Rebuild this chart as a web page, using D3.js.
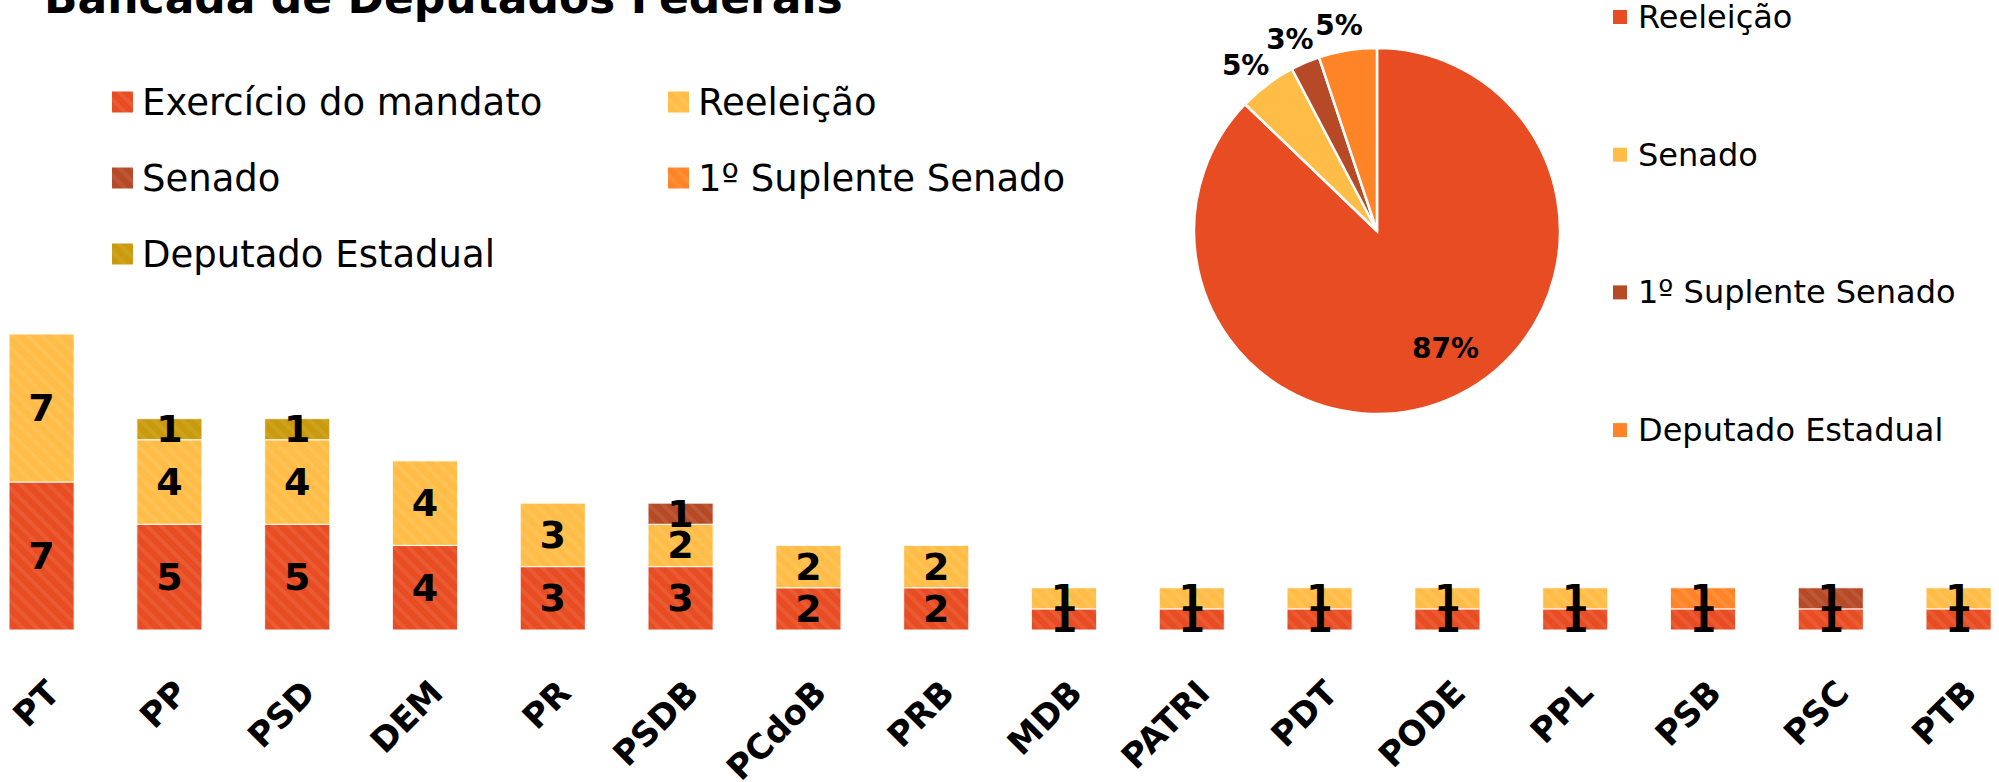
<!DOCTYPE html>
<head>
    <meta charset="utf-8">
    <title>Bancada de Deputados Federais</title>
    <style>
        body { margin: 0; background: #fff; }
        text { font-family: "DejaVu Sans", sans-serif; fill: #000; }
    </style>
</head>
<body>

<script src="https://cdn.jsdelivr.net/npm/d3@7"></script>

<script>

    // bar data, one entry per party
    const parties = ['PT', 'PP', 'PSD', 'DEM', 'PR', 'PSDB', 'PCdoB', 'PRB',
                     'MDB', 'PATRI', 'PDT', 'PODE', 'PPL', 'PSB', 'PSC', 'PTB'];
    const exercicio   = [7, 5, 5, 4, 3, 3, 2, 2, 1, 1, 1, 1, 1, 1, 1, 1];
    const reeleicao   = [7, 4, 4, 4, 3, 2, 2, 2, 1, 1, 1, 1, 1, 0, 0, 1];
    const senado      = [0, 0, 0, 0, 0, 1, 0, 0, 0, 0, 0, 0, 0, 0, 1, 0];
    const suplente    = [0, 0, 0, 0, 0, 0, 0, 0, 0, 0, 0, 0, 0, 1, 0, 0];
    const depEstadual = [0, 1, 1, 0, 0, 0, 0, 0, 0, 0, 0, 0, 0, 0, 0, 0];

    const barSeries = ['Exercício do mandato', 'Reeleição', 'Senado', '1º Suplente Senado', 'Deputado Estadual'];
    const barColors = ['#e84c22', '#ffbd47', '#b64926', '#ff8427', '#c99a0c'];

    // pie data
    const pieLabels = ['Reeleição', 'Senado', '1º Suplente Senado', 'Deputado Estadual'];
    const pieValues = [34, 2, 1, 2];
    const pieColors = ['#e84c22', '#ffbd47', '#b64926', '#ff8427'];

    const W = 1999, H = 782;

    const svg = d3.select('body').append('svg')
        .attr('width', W)
        .attr('height', H);

    // striped fills
    const defs = svg.append('defs');
    barColors.forEach((c, i) => {
        const p = defs.append('pattern')
            .attr('id', 'stripe' + i)
            .attr('patternUnits', 'userSpaceOnUse')
            .attr('width', 10)
            .attr('height', 10)
            .attr('patternTransform', 'rotate(-45)');
        p.append('rect').attr('width', 10).attr('height', 10).attr('fill', c);
        p.append('rect').attr('width', 4).attr('height', 10)
            .attr('fill', '#fff').attr('fill-opacity', 0.08);
    });

    // title (cut at the top as in the slide)
    svg.append('text')
        .attr('x', 44)
        .attr('y', 13)
        .style('font-size', '44px')
        .style('font-weight', 'bold')
        .text('Bancada de Deputados Federais');

    // ---------- stacked bars ----------
    const rows = parties.map((p, i) => ({
        party: p,
        'Exercício do mandato': exercicio[i],
        'Reeleição': reeleicao[i],
        'Senado': senado[i],
        '1º Suplente Senado': suplente[i],
        'Deputado Estadual': depEstadual[i]
    }));

    const stack = d3.stack().keys(barSeries);
    const layers = stack(rows);

    const x = d3.scaleBand()
        .domain(parties)
        .range([-22.3, 2022.5])
        .paddingInner(0.49)
        .paddingOuter(0.245);

    const y = d3.scaleLinear()
        .domain([0, 14])
        .range([630, 334]);

    const layer = svg.selectAll('.layer')
        .data(layers)
        .enter().append('g')
        .attr('class', 'layer');

    layer.selectAll('rect')
        .data((d, i) => d.filter(s => s[1] > s[0]).map(s => ({s: s, i: i})))
        .enter().append('rect')
        .attr('x', d => x(d.s.data.party))
        .attr('width', x.bandwidth())
        .attr('y', d => y(d.s[1]))
        .attr('height', d => y(d.s[0]) - y(d.s[1]))
        .attr('fill', d => 'url(#stripe' + d.i + ')')
        .attr('stroke', '#fff')
        .attr('stroke-opacity', 0.8)
        .attr('stroke-width', 1.2);

    layer.selectAll('text')
        .data(d => d.filter(s => s[1] > s[0]))
        .enter().append('text')
        .attr('x', d => x(d.data.party) + x.bandwidth() / 2)
        .attr('y', d => (y(d[0]) + y(d[1])) / 2)
        .attr('text-anchor', 'middle')
        .attr('dominant-baseline', 'central')
        .style('font-size', '38px')
        .style('font-weight', 'bold')
        .text(d => d[1] - d[0]);

    // category labels
    svg.append('g').selectAll('text')
        .data(parties)
        .enter().append('text')
        .attr('transform', d => 'translate(' + (x(d) + x.bandwidth() / 2 + 20) + ',695) rotate(-45)')
        .attr('text-anchor', 'end')
        .style('font-size', '34px')
        .style('font-weight', 'bold')
        .text(d => d);

    // bar legend
    const legend = svg.append('g').selectAll('g')
        .data(barSeries)
        .enter().append('g')
        .attr('transform', (d, i) => 'translate(' + (i % 2 ? 668 : 112) + ',' + (102 + Math.floor(i / 2) * 76) + ')');

    legend.append('rect')
        .attr('y', -10.5)
        .attr('width', 21)
        .attr('height', 21)
        .attr('fill', (d, i) => 'url(#stripe' + i + ')');

    legend.append('text')
        .attr('x', 30)
        .attr('dominant-baseline', 'central')
        .style('font-size', '37px')
        .text(d => d);

    // ---------- pie ----------
    const cx = 1377, cy = 231, r = 183;
    const total = d3.sum(pieValues);

    const pie = d3.pie().sort(null);
    const arcs = pie(pieValues);
    const arc = d3.arc().innerRadius(0).outerRadius(r);
    const outerLabel = d3.arc().innerRadius(212).outerRadius(212);
    const innerLabel = d3.arc().innerRadius(r * 0.76).outerRadius(r * 0.76);

    const pieG = svg.append('g')
        .attr('transform', 'translate(' + cx + ',' + cy + ')');

    pieG.selectAll('path')
        .data(arcs)
        .enter().append('path')
        .attr('d', arc)
        .attr('fill', (d, i) => pieColors[i])
        .attr('stroke', '#fff')
        .attr('stroke-width', 2.5);

    pieG.selectAll('text')
        .data(arcs)
        .enter().append('text')
        .attr('transform', (d, i) => {
            const c = (i === 0 ? innerLabel : outerLabel).centroid(d);
            return 'translate(' + (c[0] + (i === 0 ? 14 : -4)) + ',' + (c[1] + (i === 0 ? -10 : 4)) + ')';
        })
        .attr('text-anchor', 'middle')
        .attr('dominant-baseline', 'central')
        .style('font-size', '28px')
        .style('font-weight', 'bold')
        .text(d => Math.round(d.data / total * 100) + '%');

    // pie legend
    const pieLegend = svg.append('g').selectAll('g')
        .data(pieLabels)
        .enter().append('g')
        .attr('transform', (d, i) => 'translate(1613,' + (17 + i * 137.7) + ')');

    pieLegend.append('rect')
        .attr('y', -7)
        .attr('width', 14)
        .attr('height', 14)
        .attr('fill', (d, i) => pieColors[i]);

    pieLegend.append('text')
        .attr('x', 25)
        .attr('dominant-baseline', 'central')
        .style('font-size', '32px')
        .text(d => d);

</script>

</body>
